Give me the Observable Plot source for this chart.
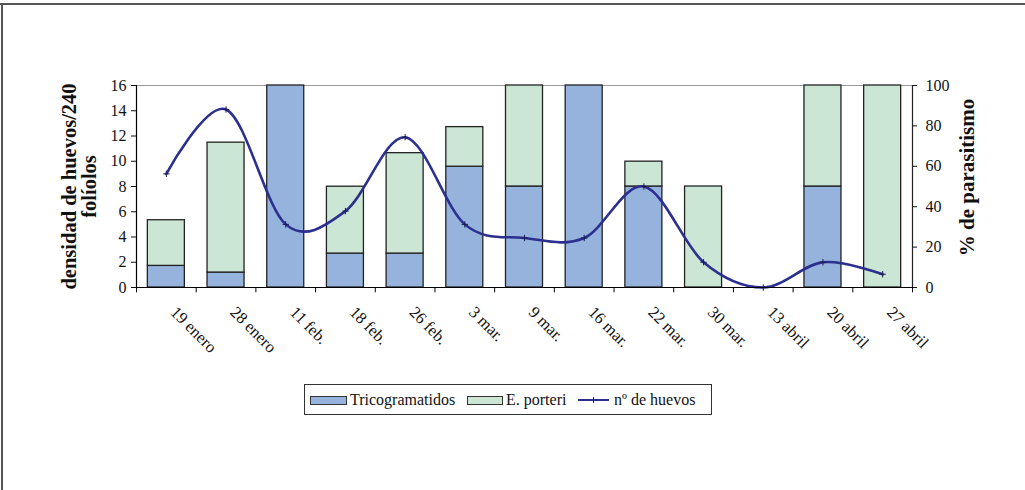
<!DOCTYPE html>
<html>
<head>
<meta charset="utf-8">
<script src="https://cdn.jsdelivr.net/npm/d3@7"></script>
<script src="https://cdn.jsdelivr.net/npm/@observablehq/plot@0.6"></script>
<style>
  html, body { margin: 0; padding: 0; background: #fff; }
  #wrap { position: relative; width: 1025px; height: 490px; overflow: hidden; font-family: "Liberation Serif", "Times New Roman", serif; color: #111; }
  .bline { position: absolute; background: #555; }
  #legend { position: absolute; left: 304px; top: 384px; width: 408px; height: 31px; border: 1px solid #333; box-sizing: border-box; font-size: 16px; }
  #legend .sw { position: absolute; top: 11px; height: 9px; box-sizing: border-box; border: 1px solid #333; }
  #legend .tx { position: absolute; top: 0; line-height: 29px; white-space: nowrap; }
  #legend .ln { position: absolute; top: 14px; height: 2.4px; background: #2B2F8F; }
  #legend .pl { position: absolute; top: 12px; width: 1px; height: 6px; background: #222; }
</style>
</head>
<body>
<div id="wrap">
  <div class="bline" style="left:0;top:3px;width:1025px;height:1.5px;"></div>
  <div class="bline" style="left:1px;top:3px;width:1.5px;height:490px;"></div>
  <div id="chart"></div>
  <div id="legend"></div>
</div>
<script>
// ---- data ----
const dates = ["19 enero","28 enero","11 feb.","18 feb.","26 feb.","3 mar.","9 mar.","16 mar.","22 mar.","30 mar.","13 abril","20 abril","27 abril"];
const tricogramatidos = [10.7, 7.4, 100, 16.8, 16.8, 59.8, 50, 100, 50, 0, 0, 50, 0];   // % parasitismo
const porteri        = [22.6, 64.3, 0, 33.1, 49.7, 19.6, 50, 0, 12.3, 50, 0, 50, 100];  // % parasitismo
const huevos         = [9.0, 14.1, 5.0, 6.05, 11.9, 5.0, 3.92, 3.92, 8.0, 2.0, 0, 2.0, 1.05]; // densidad
const series = ["Tricogramatidos", "E. porteri"];
const leftTicks = [0, 2, 4, 6, 8, 10, 12, 14, 16];
const rightTicks = [0, 20, 40, 60, 80, 100];

const blue = "#95B3DC", green = "#CCE6D6", navy = "#2B2F8F";
const yMax = 16, pMax = 100;
const toLeft = p => p * yMax / pMax;

const barData = dates.flatMap((d, i) => [
  {date: d, serie: series[0], pct: tricogramatidos[i]},
  {date: d, serie: series[1], pct: porteri[i]}
]).filter(d => d.pct > 0);
const lineData = dates.map((d, i) => ({date: d, huevos: huevos[i]}));

const W = 1025, H = 380, mL = 136, mR = 113, mT = 85, mB = 93;
const step = (W - mL - mR) / dates.length;

const chart = Plot.plot({
  width: W, height: H,
  marginLeft: mL, marginRight: mR, marginTop: mT, marginBottom: mB,
  style: {fontFamily: '"Liberation Serif", "Times New Roman", serif', fontSize: "16px", color: "#111", background: "transparent"},
  x: {domain: dates, paddingInner: 0.38, paddingOuter: 0.19, round: false, axis: null},
  y: {domain: [0, yMax], axis: null},
  color: {domain: series, range: [blue, green]},
  marks: [
    Plot.ruleY([yMax], {stroke: "#999", strokeWidth: 1.2}),
    Plot.barY(barData, {x: "date", y: d => toLeft(d.pct), fill: "serie", stroke: "#222", strokeWidth: 1.3}),
    Plot.line(lineData, {x: "date", y: "huevos", curve: "cardinal", stroke: navy, strokeWidth: 2.6}),
    Plot.dot(lineData, {x: "date", y: "huevos", symbol: "plus", r: 2.2, stroke: "#1a1d55", strokeWidth: 1}),
    // axes lines
    Plot.ruleY([0], {stroke: "#000", strokeWidth: 1.2}),
    Plot.ruleX([dates[0]], {dx: -step / 2, stroke: "#000", strokeWidth: 1.2}),
    Plot.ruleX([dates[dates.length - 1]], {dx: step / 2, stroke: "#222", strokeWidth: 1.2}),
    // x ticks at category boundaries
    Plot.ruleX(dates, {dx: -step / 2, y1: 0, y2: -0.42, stroke: "#000", strokeWidth: 1}),
    Plot.ruleX([dates[dates.length - 1]], {dx: step / 2, y1: 0, y2: -0.42, stroke: "#000", strokeWidth: 1}),
    // y axes
    Plot.axisY({anchor: "left", ticks: leftTicks, tickSize: 5, tickPadding: 5, label: null, fontSize: 16}),
    Plot.axisY({anchor: "right", ticks: rightTicks.map(toLeft), tickFormat: d => Math.round(d * pMax / yMax), tickSize: 4, tickPadding: 9, label: null, fontSize: 16}),
    // x tick labels
    Plot.text(dates, {x: d => d, frameAnchor: "bottom", text: d => d, rotate: 45, textAnchor: "start", lineAnchor: "middle", dy: 22, dx: 7, fontSize: 16.5, fill: "#111"}),
    // axis titles
    Plot.text(["densidad de huevos/240\nfolíolos"], {frameAnchor: "left", text: d => d, rotate: -90, dx: -57, dy: 0, fontSize: 20.5, fontWeight: "bold", lineHeight: 1.0, textAnchor: "middle", lineAnchor: "middle", fill: "#111"}),
    Plot.text(["% de parasitismo"], {frameAnchor: "right", text: d => d, rotate: -90, dx: 55, dy: -9, fontSize: 21, fontWeight: "bold", textAnchor: "middle", lineAnchor: "middle", fill: "#111"})
  ]
});
document.getElementById("chart").appendChild(chart);

// legend
const lg = document.getElementById("legend");
lg.innerHTML = `
  <div class="sw" style="left:5px;width:37px;background:${blue}"></div>
  <div class="tx" style="left:45px">${series[0]}</div>
  <div class="sw" style="left:162px;width:36px;background:${green}"></div>
  <div class="tx" style="left:201px">${series[1]}</div>
  <div class="ln" style="left:273px;width:31px"></div>
  <div class="pl" style="left:288px"></div>
  <div class="tx" style="left:309px">nº de huevos</div>`;
</script>
</body>
</html>
